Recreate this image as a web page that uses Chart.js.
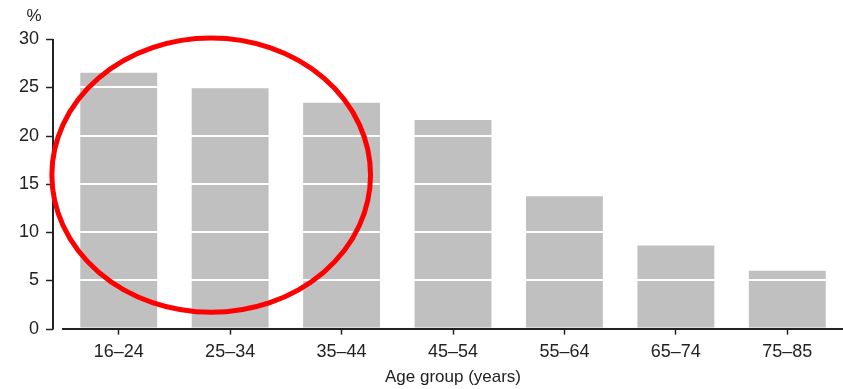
<!DOCTYPE html>
<html>
<head>
<meta charset="utf-8">
<script src="https://cdn.jsdelivr.net/npm/chart.js@4/dist/chart.umd.min.js"></script>
<style>
  html, body { margin: 0; padding: 0; background: #fff; }
  #wrap { width: 843px; height: 389px; }
</style>
</head>
<body>
<div id="wrap"><canvas id="grafico"></canvas></div>
<script>
// dados
const ageGroups = ['16–24', '25–34', '35–44', '45–54', '55–64', '65–74', '75–85'];
const percentValues = [26.5, 24.9, 23.4, 21.6, 13.7, 8.6, 6.0];
const yTicks = [0, 5, 10, 15, 20, 25, 30];

const fonte = '"Liberation Sans", Arial, sans-serif';
const corTexto = '#222';

// eixo y separado (linha + marcas) e o "%" no topo
const eixoY = {
  id: 'eixoY',
  afterDraw(chart) {
    const ctx = chart.ctx;
    const y = chart.scales.y;
    const xLinha = chart.chartArea.left - 10;
    ctx.save();
    ctx.strokeStyle = corTexto;
    ctx.lineWidth = 2;
    ctx.beginPath();
    ctx.moveTo(xLinha, y.getPixelForValue(yTicks[yTicks.length - 1]));
    ctx.lineTo(xLinha, y.getPixelForValue(yTicks[0]) + 1);
    ctx.stroke();
    ctx.lineWidth = 1.5;
    yTicks.forEach(v => {
      const py = Math.round(y.getPixelForValue(v)) + 0.5;
      ctx.beginPath();
      ctx.moveTo(xLinha - 7, py);
      ctx.lineTo(xLinha, py);
      ctx.stroke();
    });
    ctx.fillStyle = corTexto;
    ctx.font = '17px ' + fonte;
    ctx.textAlign = 'center';
    ctx.textBaseline = 'middle';
    ctx.fillText('%', 34, y.getPixelForValue(30) - 23);
    ctx.restore();
  }
};

// circulo vermelho de destaque
const destaque = {
  id: 'destaque',
  afterDraw(chart) {
    const ctx = chart.ctx;
    const x = chart.scales.x;
    const y = chart.scales.y;
    const cx = x.getPixelForValue(0.83);
    const cy = y.getPixelForValue(15.9);
    const rx = x.getPixelForValue(0.83 + 1.43) - cx;
    const ry = cy - y.getPixelForValue(15.9 + 14.2);
    ctx.save();
    ctx.strokeStyle = '#ff0000';
    ctx.lineWidth = 5;
    ctx.beginPath();
    ctx.ellipse(cx, cy, rx, ry, 0, 0, Math.PI * 2);
    ctx.stroke();
    ctx.restore();
  }
};

const ctx = document.getElementById('grafico').getContext('2d');

const meuGrafico = new Chart(ctx, {
  type: 'bar',
  data: {
    labels: ageGroups,
    datasets: [{
      label: '%',
      data: percentValues,
      backgroundColor: '#c0c0c0',
      borderWidth: 0,
      categoryPercentage: 1,
      barPercentage: 0.69
    }]
  },
  plugins: [eixoY, destaque],
  options: {
    responsive: true,
    maintainAspectRatio: false,
    animation: false,
    layout: {
      padding: { top: 39, right: -5, bottom: 0, left: 0 }
    },
    plugins: {
      legend: { display: false },
      tooltip: { enabled: false }
    },
    scales: {
      x: {
        grid: {
          offset: false,
          drawOnChartArea: false,
          drawTicks: true,
          tickLength: 6,
          tickColor: corTexto,
          tickWidth: 1.5
        },
        border: { display: true, color: corTexto, width: 2 },
        ticks: {
          color: corTexto,
          font: { family: fonte, size: 18, lineHeight: 1 },
          padding: 8,
          maxRotation: 0
        },
        title: {
          display: true,
          text: 'Age group (years)',
          color: corTexto,
          font: { family: fonte, size: 17 },
          padding: { top: -1, bottom: 1 }
        }
      },
      y: {
        min: 0,
        max: 30,
        afterFit(scale) { scale.width = 63; },
        grid: {
          z: 1,
          color: ctx => ctx.tick && ctx.tick.value === 0 ? 'rgba(0,0,0,0)' : '#ffffff',
          lineWidth: 2,
          drawTicks: false
        },
        border: { display: false },
        ticks: {
          stepSize: 5,
          color: corTexto,
          font: { family: fonte, size: 18 },
          padding: 24
        }
      }
    }
  }
});
</script>
</body>
</html>
